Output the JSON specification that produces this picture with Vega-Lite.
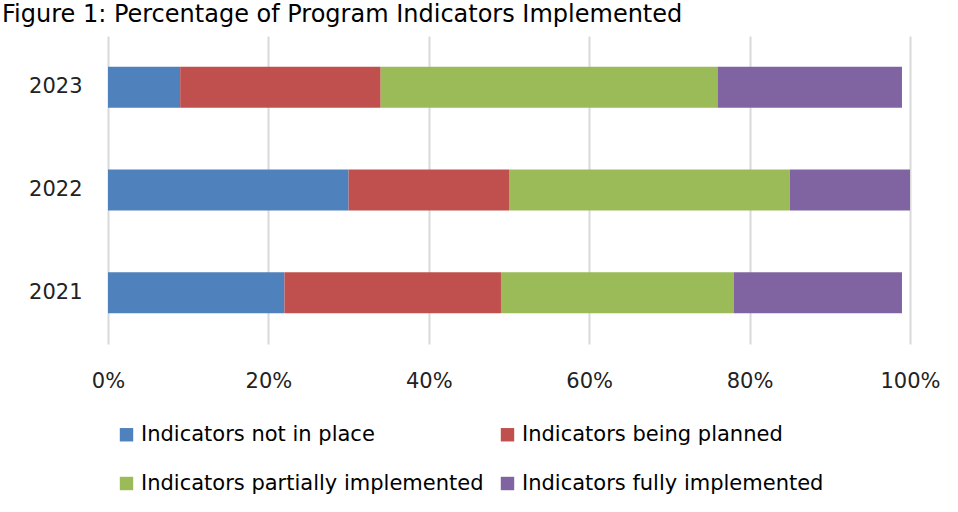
{
  "$schema": "https://vega.github.io/schema/vega-lite/v6.json",
  "width": 802,
  "height": 308,
  "autosize": {"type": "none"},
  "padding": {"left": 108, "top": 36, "right": 48, "bottom": 168},
  "background": "white",
  "title": {
    "text": "Figure 1: Percentage of Program Indicators Implemented",
    "anchor": "start",
    "frame": "group",
    "orient": "top",
    "font": "DejaVu Sans",
    "fontSize": 24,
    "fontWeight": "normal",
    "color": "#000000",
    "baseline": "bottom",
    "offset": 14,
    "dx": -106,
    "dy": 29
  },
  "data": {
    "values": [
      {"year": "2023", "category": "Indicators not in place", "idx": 1, "value": 9},
      {"year": "2023", "category": "Indicators being planned", "idx": 2, "value": 25},
      {"year": "2023", "category": "Indicators partially implemented", "idx": 3, "value": 42},
      {"year": "2023", "category": "Indicators fully implemented", "idx": 4, "value": 23},
      {"year": "2022", "category": "Indicators not in place", "idx": 1, "value": 30},
      {"year": "2022", "category": "Indicators being planned", "idx": 2, "value": 20},
      {"year": "2022", "category": "Indicators partially implemented", "idx": 3, "value": 35},
      {"year": "2022", "category": "Indicators fully implemented", "idx": 4, "value": 15},
      {"year": "2021", "category": "Indicators not in place", "idx": 1, "value": 22},
      {"year": "2021", "category": "Indicators being planned", "idx": 2, "value": 27},
      {"year": "2021", "category": "Indicators partially implemented", "idx": 3, "value": 29},
      {"year": "2021", "category": "Indicators fully implemented", "idx": 4, "value": 21}
    ]
  },
  "mark": {"type": "bar"},
  "encoding": {
    "y": {
      "field": "year",
      "type": "nominal",
      "sort": "descending",
      "scale": {"paddingInner": 0.6, "paddingOuter": 0.3},
      "axis": {
        "title": null,
        "domain": false,
        "ticks": false,
        "labelFont": "DejaVu Sans",
        "labelFontSize": 21,
        "labelColor": "#222222",
        "labelPadding": 26
      }
    },
    "x": {
      "field": "value",
      "type": "quantitative",
      "stack": "zero",
      "scale": {"domain": [0, 100], "nice": false},
      "axis": {
        "title": null,
        "values": [0, 20, 40, 60, 80, 100],
        "labelExpr": "datum.value + '%'",
        "domain": false,
        "ticks": false,
        "grid": true,
        "gridColor": "#d9d9d9",
        "gridWidth": 2,
        "labelFont": "DejaVu Sans",
        "labelFontSize": 21,
        "labelColor": "#222222",
        "labelPadding": 26,
        "labelFlush": false
      }
    },
    "color": {
      "field": "category",
      "type": "nominal",
      "sort": ["Indicators not in place", "Indicators being planned", "Indicators partially implemented", "Indicators fully implemented"],
      "scale": {
        "domain": ["Indicators not in place", "Indicators being planned", "Indicators partially implemented", "Indicators fully implemented"],
        "range": ["#4f81bd", "#c0504d", "#9bbb59", "#8064a2"]
      },
      "legend": {
        "title": null,
        "orient": "none",
        "legendX": 8,
        "legendY": 388,
        "direction": "horizontal",
        "columns": 2,
        "symbolType": "square",
        "symbolSize": 180,
        "symbolStrokeWidth": 0,
        "labelFont": "DejaVu Sans",
        "labelFontSize": 21,
        "labelColor": "#000000",
        "labelLimit": 500,
        "labelOffset": 4,
        "rowPadding": 27,
        "columnPadding": 13,
        "padding": 0
      }
    },
    "order": {"field": "idx", "type": "quantitative"}
  },
  "config": {
    "view": {"stroke": null}
  }
}
